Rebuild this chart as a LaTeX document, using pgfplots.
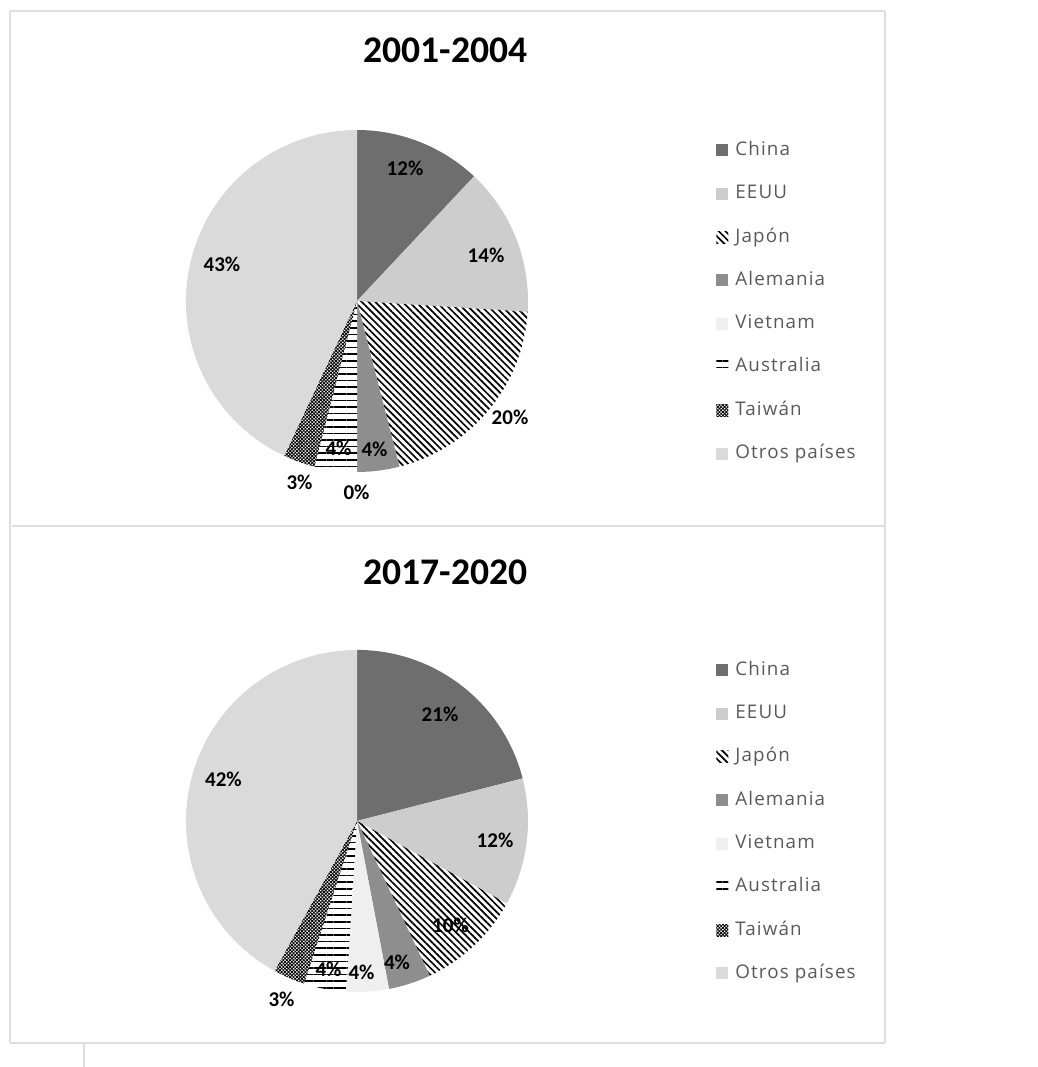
\documentclass[border=0pt]{standalone}
\usepackage{pgfplots}
\pgfplotsset{compat=1.18}
\usepackage{pgfplotstable}
\usetikzlibrary{patterns.meta}
\usepackage{fontspec}
\setmainfont{Carlito}
\newfontfamily\legfont[LetterSpace=6]{Open Sans}

\definecolor{cChina}{HTML}{6E6E6E}
\definecolor{cEEUU}{HTML}{CDCDCD}
\definecolor{cAlem}{HTML}{8E8E8E}
\definecolor{cViet}{HTML}{EFEFEF}
\definecolor{cOtros}{HTML}{DADADA}
\definecolor{legtext}{HTML}{595959}
\definecolor{frame}{HTML}{DEDEDE}

\pgfplotstableread[col sep=semicolon]{
pais;valor
China;12
EEUU;14
Japón;20
Alemania;4
Vietnam;0
Australia;4
Taiwán;3
Otros países;43
}\tablaA

\pgfplotstableread[col sep=semicolon]{
pais;valor
China;21
EEUU;12
Japón;10
Alemania;4
Vietnam;4
Australia;4
Taiwán;3
Otros países;42
}\tablaB

\tikzset{
 slice0/.style={draw=none, fill=cChina},
 slice1/.style={draw=none, fill=cEEUU},
 slice2/.style={draw=none, pattern={Lines[angle=-45,distance=2.4pt,line width=0.85pt]}},
 slice3/.style={draw=none, fill=cAlem},
 slice4/.style={draw=none, fill=cViet},
 slice5/.style={draw=none, pattern={Lines[angle=0,distance=3.3pt,line width=0.85pt]}},
 slice6/.style={draw=none, pattern={Hatch[angle=45,distance=1.2pt,line width=0.42pt]}},
 slice7/.style={draw=none, fill=cOtros},
 lbl/.style={font=\fontsize{10.5}{12}\selectfont\bfseries, text=black, inner sep=0pt},
 ttl/.style={font=\fontsize{18.8}{22}\selectfont\bfseries, text=black, inner sep=0pt},
}

\pgfplotsset{
 base/.style={
  scale only axis, width=519pt, xmin=0, xmax=1038, y dir=reverse,
  hide axis, clip=false, anchor=south west,
  legend cell align=left,
  legend style={anchor=north west, draw=none, fill=none, inner sep=0pt,
    row sep=12.65pt, column sep=3.5pt,
    font=\legfont\fontsize{9.4}{11}\selectfont, text=legtext,
    nodes={inner sep=0pt, text height=7pt, text depth=2pt}},
  legend image code/.code={\path[##1] (0pt,-3pt) rectangle (6pt,3pt);},
 }
}

% #1 table, #2 center x, #3 center y (pixels)
\newcommand{\pastel}[3]{%
  \pgfmathsetmacro\acum{0}%
  \pgfplotsforeachungrouped \i in {0,...,7}{%
    \pgfplotstablegetelem{\i}{valor}\of#1\let\valor\pgfplotsretval
    \pgfplotstablegetelem{\i}{pais}\of#1\let\nomb\pgfplotsretval
    \pgfmathsetmacro\ta{3.6*\acum}%
    \pgfmathsetmacro\tb{3.6*(\acum+\valor)}%
    \pgfmathsetmacro\xa{#2+171*sin(\ta)}%
    \pgfmathsetmacro\ya{#3-171*cos(\ta)}%
    \pgfmathsetmacro\sa{90-\ta}%
    \pgfmathsetmacro\sb{90-\tb}%
    \edef\cmd{\noexpand\addplot[slice\i] coordinates {(#2,#3)} -- (axis cs:\xa,\ya) arc[start angle=\sa, end angle=\sb, radius=85.5pt] -- cycle;
      \noexpand\addlegendentry{\nomb}}%
    \cmd
    \pgfmathsetmacro\acum{\acum+\valor}%
  }%
}

\begin{document}
\begin{tikzpicture}
\useasboundingbox (0,0) rectangle (519pt,533.5pt);
% ---------------- top panel ----------------
\begin{axis}[base, at={(0pt,270.5pt)}, ymin=0, ymax=526, height=263pt,
  legend style={at={(axis cs:716,141)}}]
 \pastel{\tablaA}{357}{301}
 \draw[frame, line width=0.6pt] (axis cs:10,11) -- (axis cs:885,11);
 \draw[frame, line width=0.6pt] (axis cs:10,11) -- (axis cs:10,526);
 \draw[frame, line width=0.6pt] (axis cs:885,11) -- (axis cs:885,526);
 \draw[frame, line width=1.2pt] (axis cs:12,526) -- (axis cs:885,526);
 \node[ttl] at (axis cs:445.5,50) {2001-2004};
 \node[lbl] at (axis cs:405,168) {12\%};
 \node[lbl] at (axis cs:486,255) {14\%};
 \node[lbl] at (axis cs:510,417) {20\%};
 \node[lbl] at (axis cs:374.5,449) {4\%};
 \node[lbl] at (axis cs:338.5,448) {4\%};
 \node[lbl] at (axis cs:356.5,492) {0\%};
 \node[lbl] at (axis cs:299.5,482) {3\%};
 \node[lbl] at (axis cs:222,264) {43\%};
\end{axis}
% ---------------- bottom panel ----------------
\begin{axis}[base, at={(0pt,0pt)}, ymin=526, ymax=1067, height=270.5pt,
  legend style={at={(axis cs:716,661)}}]
 \pastel{\tablaB}{357}{821}
 \draw[frame, line width=0.6pt] (axis cs:10,526) -- (axis cs:10,1043);
 \draw[frame, line width=0.6pt] (axis cs:885,526) -- (axis cs:885,1043);
 \draw[frame, line width=0.6pt] (axis cs:10,1043) -- (axis cs:885,1043);
 \draw[frame, line width=0.6pt] (axis cs:84,1043) -- (axis cs:84,1067);
 \node[ttl] at (axis cs:445.5,572) {2017-2020};
 \node[lbl] at (axis cs:440,714) {21\%};
 \node[lbl] at (axis cs:495,840) {12\%};
 \node[lbl] at (axis cs:450.5,925) {10\%};
 \node[lbl] at (axis cs:397,962) {4\%};
 \node[lbl] at (axis cs:361.5,972) {4\%};
 \node[lbl] at (axis cs:328.5,969) {4\%};
 \node[lbl] at (axis cs:281.5,999) {3\%};
 \node[lbl] at (axis cs:223.5,779) {42\%};
\end{axis}
\end{tikzpicture}
\end{document}
